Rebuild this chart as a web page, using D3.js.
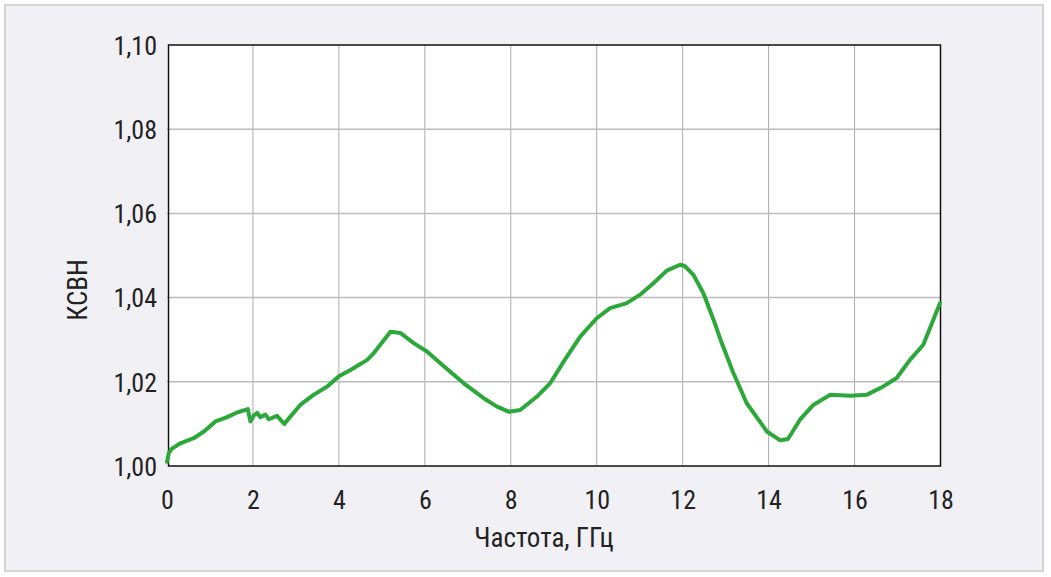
<!DOCTYPE html>
<meta charset="utf-8">
<style>
  body { margin: 0; background: #fff; }
  text { font-family: "Liberation Sans Narrow", "Arial Narrow", "Roboto Condensed", sans-serif; fill: #222; }
</style>
<body>
<script src="https://cdn.jsdelivr.net/npm/d3@7"></script>
<script>

// frequency, GHz
var freq = [0, 0.04, 0.10, 0.31, 0.62, 0.86, 1.13, 1.40, 1.63, 1.88, 1.94, 2.02, 2.10, 2.17, 2.29, 2.37, 2.56, 2.73,
            3.10, 3.41, 3.73, 4.00, 4.27, 4.66, 4.81, 5.20, 5.43, 5.74, 6.05, 6.36, 6.90, 7.37, 7.68, 7.95, 8.22,
            8.61, 8.92, 9.23, 9.62, 10.00, 10.31, 10.70, 11.01, 11.32, 11.63, 11.94, 12.05, 12.25, 12.48, 12.72,
            12.91, 13.18, 13.49, 13.96, 14.27, 14.45, 14.73, 15.04, 15.43, 15.90, 16.28, 16.67, 16.98, 17.29,
            17.60, 17.83, 17.99];
// VSWR values
var ksvn = [1.0010, 1.0030, 1.0040, 1.0054, 1.0066, 1.0082, 1.0106, 1.0116, 1.0127, 1.0135, 1.0106, 1.0120, 1.0126,
            1.0116, 1.0122, 1.0111, 1.0119, 1.0100, 1.0145, 1.0169, 1.0189, 1.0213, 1.0228, 1.0252, 1.0268, 1.0319,
            1.0316, 1.0292, 1.0272, 1.0244, 1.0197, 1.0161, 1.0141, 1.0129, 1.0133, 1.0165, 1.0197, 1.0248, 1.0308,
            1.0351, 1.0375, 1.0387, 1.0407, 1.0434, 1.0464, 1.0478, 1.0475, 1.0454, 1.0411, 1.0347, 1.0292, 1.0221,
            1.0149, 1.0082, 1.0061, 1.0064, 1.0110, 1.0145, 1.0169, 1.0167, 1.0169, 1.0189, 1.0209, 1.0252, 1.0288,
            1.0347, 1.0387];

var xTicks = [0, 2, 4, 6, 8, 10, 12, 14, 16, 18];
var yTicks = [1.00, 1.02, 1.04, 1.06, 1.08, 1.10];

var W = 1051, H = 577;
var plotLeft = 167, plotRight = 940.5, plotTop = 45, plotBottom = 466;

var svg = d3.select("body").append("svg")
    .attr("width", W)
    .attr("height", H);

// panel
svg.append("rect")
    .attr("x", 5).attr("y", 5)
    .attr("width", 1038).attr("height", 566)
    .attr("fill", "#f1f1f5")
    .attr("stroke", "#d4d4d6")
    .attr("stroke-width", 2);

var x = d3.scaleLinear().domain([0, 18]).range([plotLeft, plotRight]);
var y = d3.scaleLinear().domain([1.00, 1.10]).range([plotBottom, plotTop]);

// plot area
svg.append("rect")
    .attr("x", x(0)).attr("y", y(1.10))
    .attr("width", x(18) - x(0)).attr("height", y(1.00) - y(1.10))
    .attr("fill", "#fff");

// grid
svg.append("g")
  .selectAll("line")
  .data(xTicks.slice(1, -1))
  .enter().append("line")
    .attr("x1", function(d) { return x(d); })
    .attr("x2", function(d) { return x(d); })
    .attr("y1", y(1.10)).attr("y2", y(1.00))
    .attr("stroke", "#aaa").attr("stroke-width", 1);

svg.append("g")
  .selectAll("line")
  .data(yTicks.slice(1, -1))
  .enter().append("line")
    .attr("x1", x(0)).attr("x2", x(18))
    .attr("y1", function(d) { return y(d); })
    .attr("y2", function(d) { return y(d); })
    .attr("stroke", "#bbb").attr("stroke-width", 1.5);

// frame
svg.append("rect")
    .attr("x", x(0) + 1.5).attr("y", y(1.10))
    .attr("width", x(18) - x(0) - 1.5).attr("height", y(1.00) - y(1.10))
    .attr("fill", "none")
    .attr("stroke", "#111")
    .attr("stroke-width", 1.5);

// axes labels
var fmt = function(d) { return d3.format(".2f")(d).replace(".", ","); };

svg.append("g")
    .attr("transform", "translate(0," + (plotBottom + 43) + ")")
    .call(d3.axisBottom(x).tickValues(xTicks).tickSize(0).tickPadding(0))
    .call(function(g) { g.select(".domain").remove(); })
    .selectAll("text")
      .attr("dy", 0)
      .style("font-size", "26px");

svg.append("g")
    .attr("transform", "translate(" + 157 + ",0)")
    .call(d3.axisLeft(y).tickValues(yTicks).tickFormat(fmt).tickSize(0).tickPadding(0))
    .call(function(g) { g.select(".domain").remove(); })
    .selectAll("text")
      .attr("dy", "0.36em")
      .style("font-size", "26px");

svg.selectAll(".tick text").attr("fill", "#222");

// line
var data = freq.map(function(f, i) { return {f: f, v: ksvn[i]}; });

svg.append("path")
    .datum(data)
    .attr("fill", "none")
    .attr("stroke", "#2ca83a")
    .attr("stroke-width", 4)
    .attr("stroke-linejoin", "round")
    .attr("stroke-linecap", "round")
    .attr("d", d3.line()
        .x(function(d) { return x(d.f); })
        .y(function(d) { return y(d.v); }));

// titles
svg.append("text")
    .attr("text-anchor", "middle")
    .attr("x", 544).attr("y", 547)
    .style("font-size", "27px")
    .text("Частота, ГГц");

svg.append("text")
    .attr("text-anchor", "middle")
    .attr("transform", "translate(87,290)rotate(-90)")
    .style("font-size", "27px")
    .text("КСВН");

</script>
</body>
